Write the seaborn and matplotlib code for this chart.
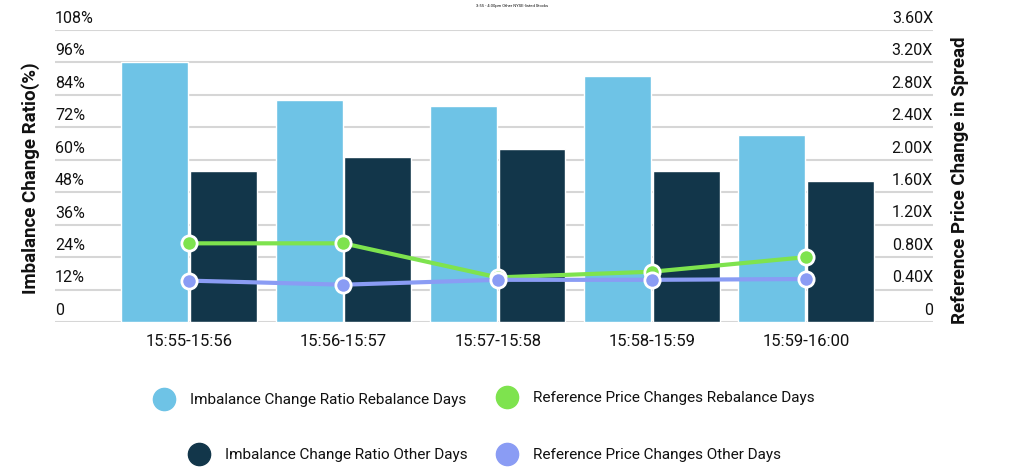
import matplotlib
matplotlib.use("Agg")
import matplotlib.pyplot as plt
import matplotlib.transforms as mtransforms
from matplotlib.lines import Line2D
import seaborn as sns
import pandas as pd

sns.set_theme(style="white")
plt.rcParams['font.family'] = ['Roboto', 'DejaVu Sans']

# Datos
categories = ["15:55-15:56", "15:56-15:57", "15:57-15:58", "15:58-15:59", "15:59-16:00"]
ratio_rebalance = [96, 82, 80, 91, 69]
ratio_other = [56, 61, 64, 56, 52]
price_rebalance = [0.97, 0.97, 0.55, 0.62, 0.80]
price_other = [0.51, 0.46, 0.52, 0.52, 0.53]

left_ticks = [0, 12, 24, 36, 48, 60, 72, 84, 96, 108]
left_labels = ["0", "12%", "24%", "36%", "48%", "60%", "72%", "84%", "96%", "108%"]
right_ticks = [0, 0.4, 0.8, 1.2, 1.6, 2.0, 2.4, 2.8, 3.2, 3.6]
right_labels = ["0", "0.40X", "0.80X", "1.20X", "1.60X", "2.00X", "2.40X", "2.80X", "3.20X", "3.60X"]

C_LIGHT = "#6EC3E6"
C_DARK = "#12364A"
C_GREEN = "#7EE34E"
C_PURPLE = "#8A9CF4"
TXT = "#111111"

df = pd.DataFrame({
    "Period": categories * 2,
    "Ratio": ratio_rebalance + ratio_other,
    "Series": ["Rebalance"] * 5 + ["Other"] * 5,
})

fig = plt.figure(figsize=(10.24, 4.68), dpi=100)
ax = fig.add_axes([55 / 1024, 146 / 468, (933 - 55) / 1024, (322 - 30) / 468])

sns.barplot(data=df, x="Period", y="Ratio", hue="Series", palette=[C_LIGHT, C_DARK],
            width=0.89, gap=0.025, saturation=1, legend=False, ax=ax, zorder=2)

ax2 = ax.twinx()
sns.pointplot(x=categories, y=price_rebalance, color=C_GREEN, ax=ax2,
              markersize=11, markeredgecolor="white", markeredgewidth=2, linewidth=3)
sns.pointplot(x=categories, y=price_other, color=C_PURPLE, ax=ax2,
              markersize=11, markeredgecolor="white", markeredgewidth=2, linewidth=3)

ax.set_xlim(-0.87, 4.822)
ax.set_ylim(0, 108)
ax2.set_ylim(0, 3.6)

# Rejilla horizontal
for t in left_ticks:
    ax.axhline(t, color="#D6D6D6", lw=1.5, zorder=0)

for a in (ax, ax2):
    for s in a.spines.values():
        s.set_visible(False)
    a.set_yticks([])
    a.set_ylabel("")
    a.set_xlabel("")
    a.grid(False)

# Etiquetas de ejes sobre la rejilla
off_up = mtransforms.ScaledTranslation(0, 3 / 72, fig.dpi_scale_trans)
tr_left = mtransforms.blended_transform_factory(ax.transAxes, ax.transData) + off_up
for t, lab in zip(left_ticks, left_labels):
    ax.text(0, t, lab, transform=tr_left, ha="left", va="bottom", fontsize=11.5, color=TXT)
tr_right = mtransforms.blended_transform_factory(ax2.transAxes, ax2.transData) + off_up
for t, lab in zip(right_ticks, right_labels):
    ax2.text(1, t, lab, transform=tr_right, ha="right", va="bottom", fontsize=11.5, color=TXT)

ax.set_xticks(range(len(categories)))
ax.set_xticklabels(categories, fontsize=12, color=TXT)
ax.tick_params(axis="x", length=0, pad=9)
ax2.tick_params(axis="x", length=0)

fig.text(31 / 1024, 1 - 178 / 468, "Imbalance Change Ratio(%)", rotation=90, ha="center",
         va="center", fontsize=13.5, fontweight="bold", color=TXT)
fig.text(960 / 1024, 1 - 180 / 468, "Reference Price Change in Spread", rotation=90, ha="center",
         va="center", fontsize=13.5, fontweight="bold", color=TXT)

fig.text(0.5, 1 - 6 / 468, "3:55 - 4:00pm Other NYSE-listed Stocks", ha="center", va="center",
         fontsize=3, color=TXT)

# Leyenda en cuatro bloques
entries = [
    ("Imbalance Change Ratio Rebalance Days", C_LIGHT, 165, 400),
    ("Reference Price Changes Rebalance Days", C_GREEN, 508, 398),
    ("Imbalance Change Ratio Other Days", C_DARK, 200, 455),
    ("Reference Price Changes Other Days", C_PURPLE, 508, 455),
]
for label, col, mx, my in entries:
    h = Line2D([0], [0], marker="o", linestyle="none", markersize=16,
               markerfacecolor=col, markeredgecolor=col, label=label)
    fig.legend(handles=[h], loc="center left",
               bbox_to_anchor=((mx - 10) / 1024, 1 - my / 468),
               frameon=False, borderpad=0, borderaxespad=0, handlelength=1.2,
               handletextpad=1.1, fontsize=11, labelcolor=TXT)

fig.savefig("out.png", dpi=100)
